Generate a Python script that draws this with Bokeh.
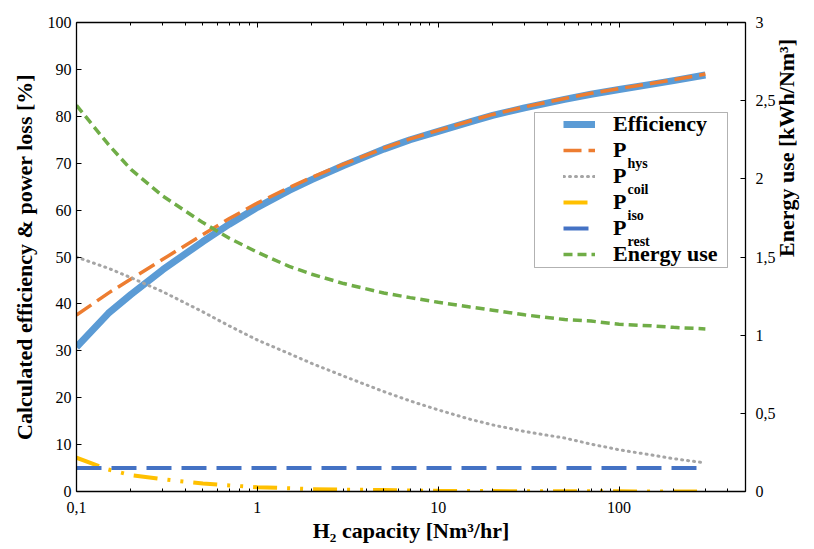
import math
from bokeh.plotting import figure
from bokeh.models import (Range1d, LinearAxis, LogAxis, FixedTicker, CustomJSTickFormatter,
                          Legend, LegendItem, Label, BoxAnnotation)
from bokeh.embed import file_html
from bokeh.resources import INLINE

# ---------------- data ----------------
capacity = [0.1, 0.15, 0.2, 0.3, 0.5, 0.7, 1, 1.5, 2, 3, 5, 7, 10, 15, 20, 30, 50, 70, 100, 150, 200, 300]
efficiency = [30.8, 38.0, 42.0, 47.3, 53.3, 57.0, 60.6, 64.2, 66.5, 69.5, 73.0, 75.0, 76.8, 78.8, 80.2,
              81.8, 83.6, 84.7, 85.7, 86.8, 87.6, 88.8]
p_hys = [37.6, 42.3, 45.3, 49.5, 54.8, 58.2, 61.5, 64.8, 67.0, 69.8, 73.2, 75.2, 77.0, 79.0, 80.4,
         82.0, 83.8, 84.9, 85.9, 87.0, 87.8, 89.0]
p_coil = [50.0, 47.6, 45.6, 42.6, 38.3, 35.3, 32.3, 29.4, 27.3, 24.6, 21.3, 19.3, 17.4, 15.4, 14.2,
          12.8, 11.4, 10.1, 8.9, 7.8, 7.0, 6.1]
p_iso = [7.2, 4.7, 3.5, 2.6, 1.7, 1.3, 0.9, 0.7, 0.5, 0.4, 0.3, 0.2, 0.15, 0.1, 0.1,
         0.05, 0.05, 0.03, 0.03, 0.02, 0.02, 0.01]
p_rest = [5.0, 5.0, 5.0, 5.0, 5.0, 5.0, 5.0, 5.0, 5.0, 5.0, 5.0, 5.0, 5.0, 5.0, 5.0,
          5.0, 5.0, 5.0, 5.0, 5.0, 5.0, 5.0]
energy_use = [2.47, 2.22, 2.06, 1.89, 1.72, 1.62, 1.53, 1.44, 1.39, 1.33, 1.27, 1.24, 1.21, 1.18, 1.16,
              1.13, 1.10, 1.09, 1.07, 1.06, 1.05, 1.04]

x_major = [0.1, 1, 10, 100]
x_minor = [m * d for d in (0.1, 1, 10, 100) for m in range(2, 10) if m * d <= 500]
left_ticks = [0, 10, 20, 30, 40, 50, 60, 70, 80, 90, 100]
right_ticks = [0, 0.5, 1, 1.5, 2, 2.5, 3]

FONT = "'Liberation Serif', 'Times New Roman', serif"

p = figure(width=814, height=549, x_axis_type="log",
           x_range=Range1d(0.1, 500), y_range=Range1d(0, 100),
           output_backend="svg", toolbar_location=None,
           min_border_left=76, min_border_right=66, min_border_top=22, min_border_bottom=58)
p.extra_y_ranges = {"energy": Range1d(0, 3)}
p.grid.visible = False
p.outline_line_color = None
p.background_fill_color = "white"
p.border_fill_color = "white"

comma = CustomJSTickFormatter(code="return tick.toString().replace('.', ',');")

def style_axis(ax):
    ax.axis_line_color = "black"
    ax.axis_line_width = 1.3
    ax.major_tick_line_color = "black"
    ax.major_tick_in = 5
    ax.major_tick_out = 0
    ax.minor_tick_line_color = "black"
    ax.minor_tick_in = 3
    ax.minor_tick_out = 0
    ax.major_label_text_font = FONT
    ax.major_label_text_font_size = "16px"
    ax.major_label_text_color = "black"
    ax.axis_label_text_font = FONT
    ax.axis_label_text_font_style = "bold"
    ax.axis_label_text_font_size = "22px"
    ax.axis_label_text_color = "black"

# bottom axis
xa = p.xaxis[0]
xa.ticker = FixedTicker(ticks=x_major, minor_ticks=x_minor)
xa.formatter = comma
xa.axis_label = "H₂ capacity [Nm³/hr]"
style_axis(xa)
xa.major_label_standoff = 10
xa.axis_label_standoff = 2

# left axis
ya = p.yaxis[0]
ya.ticker = FixedTicker(ticks=left_ticks)
ya.axis_label = "Calculated efficiency & power loss [%]"
style_axis(ya)
ya.minor_tick_line_color = None
ya.major_label_standoff = 5
ya.axis_label_standoff = 8

# right axis (ticks and numbers)
ra = LinearAxis(y_range_name="energy", ticker=FixedTicker(ticks=right_ticks), formatter=comma)
style_axis(ra)
ra.minor_tick_line_color = None
ra.major_label_standoff = 10
p.add_layout(ra, "right")

# right axis title, on a tick-less companion axis so it reads bottom-to-top and sits centred
rl = LinearAxis(y_range_name="energy", ticker=FixedTicker(ticks=[]), bounds=(0, 1.612),
                axis_label="Energy use [kWh/Nm³]")
style_axis(rl)
rl.axis_line_color = None
rl.major_tick_line_color = None
rl.minor_tick_line_color = None
rl.major_label_text_font_size = "1px"
rl.major_label_text_alpha = 0
rl.major_label_standoff = 0
rl.axis_label_standoff = 8
if "axis_label_orientation" in rl.properties():
    rl.axis_label_orientation = math.pi / 2
p.add_layout(rl, "right")

# top axis (ticks only)
ta = LogAxis(ticker=FixedTicker(ticks=x_major, minor_ticks=x_minor))
style_axis(ta)
ta.major_label_text_font_size = "1px"
ta.major_label_text_alpha = 0
ta.major_label_standoff = 0
p.add_layout(ta, "above")

# lines
r_eff = p.line(capacity, efficiency, line_color="#5B9BD5", line_width=7, line_join="round")
r_hys = p.line(capacity, p_hys, line_color="#ED7D31", line_width=3.5, line_dash="18 7")
r_coil = p.line(capacity, p_coil, line_color="#A5A5A5", line_width=3, line_dash="1 5", line_cap="round")
r_iso = p.line(capacity, p_iso, line_color="#FFC000", line_width=4, line_dash="24 10 3 10 3 10")
r_rest = p.line(capacity, p_rest, line_color="#4472C4", line_width=4, line_dash="25 10")
r_en = p.line(capacity, energy_use, y_range_name="energy", line_color="#70AD47", line_width=3.5,
              line_dash="9 5")

# legend box
box = BoxAnnotation(left=458, right=651, top=379, bottom=224,
                    left_units="screen", right_units="screen", top_units="screen", bottom_units="screen",
                    fill_color="white", fill_alpha=1.0, line_color="black", line_width=1)
p.add_layout(box)

legend = Legend(items=[
    LegendItem(label="Efficiency", renderers=[r_eff]),
    LegendItem(label="P", renderers=[r_hys]),
    LegendItem(label="P", renderers=[r_coil]),
    LegendItem(label="P", renderers=[r_iso]),
    LegendItem(label="P", renderers=[r_rest]),
    LegendItem(label="Energy use", renderers=[r_en]),
], location=(487, 224), padding=0, spacing=0, margin=0,
    glyph_width=32, glyph_height=26, label_height=26, label_standoff=18,
    label_text_font=FONT, label_text_font_style="bold", label_text_font_size="22px",
    label_text_color="black", border_line_alpha=0, background_fill_alpha=0)
p.add_layout(legend)

subs = ["hys", "coil", "iso", "rest"]
row_h = 26
legend_top = 224 + 6 * row_h  # frame coords, bottom-up
for i, s in enumerate(subs, start=1):
    center = legend_top - row_h / 2 - i * row_h
    p.add_layout(Label(x=551, y=center - 13, x_units="screen", y_units="screen", text=s,
                       text_font=FONT, text_font_style="bold", text_font_size="14px",
                       text_color="black", text_baseline="alphabetic"))

open("out.html", "w").write(file_html(p, INLINE))
